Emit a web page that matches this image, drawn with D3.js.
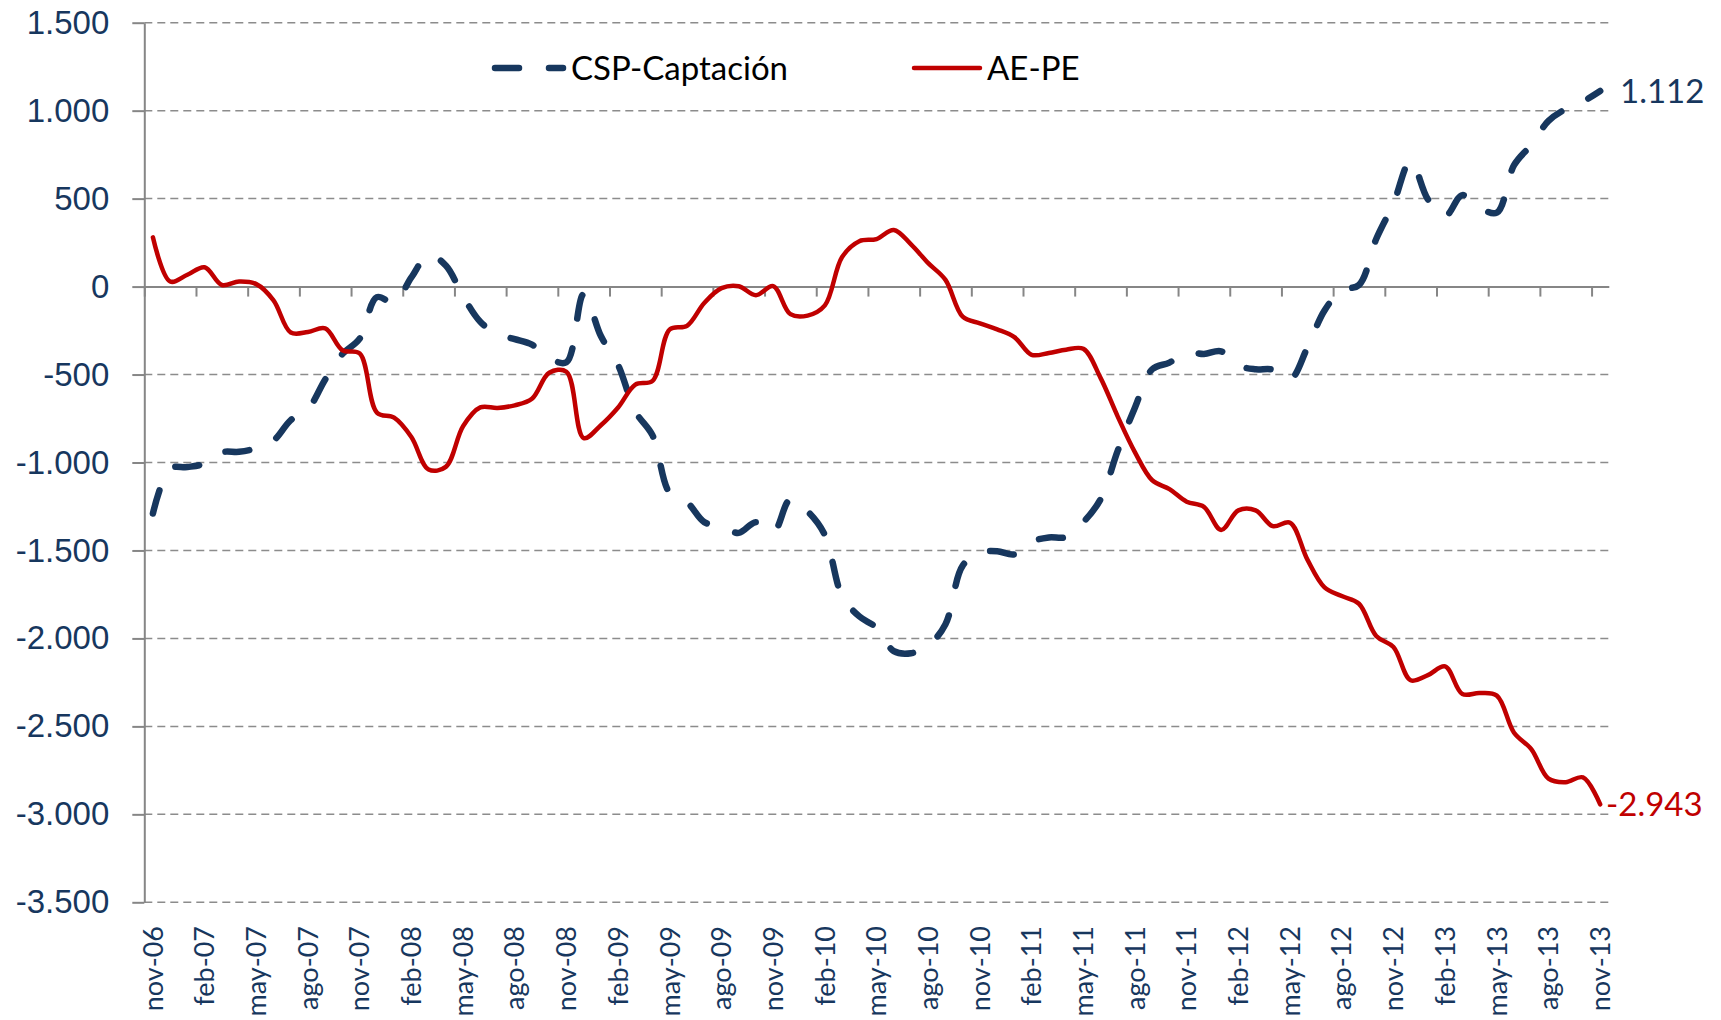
<!DOCTYPE html>
<meta charset="utf-8">
<head>
  <title>CSP-Captación vs AE-PE</title>
</head>

<style>
body {
    margin: 0;
    background: #fff;
}
svg {
    display: block;
    font-family: Lato, "Open Sans", sans-serif;
}
.grid line {
    stroke: #8c8c8c;
    stroke-width: 1.5;
    stroke-dasharray: 8, 5;
}
.axis path, .axis line {
    stroke: #868686;
    stroke-width: 2;
}
.axis text {
    fill: #17375e;
}
</style>

<body>
  <svg width="1721" height="1020"></svg>

  <script src="https://cdnjs.cloudflare.com/ajax/libs/d3/7.8.5/d3.min.js"></script>
  <script>

// categories: monthly, nov-06 .. nov-13 (85 months)
    var monthNames = ["ene", "feb", "mar", "abr", "may", "jun", "jul", "ago", "sep", "oct", "nov", "dic"];
    var months = [];
    for (var k = 0; k < 85; k++) {
        var yr = 6 + Math.floor((10 + k) / 12);
        months.push(monthNames[(10 + k) % 12] + "-" + (yr < 10 ? "0" : "") + yr);
    }

// tick labels on the category axis (every 3rd month)
    var xLabels = ["nov-06", "feb-07", "may-07", "ago-07", "nov-07", "feb-08", "may-08", "ago-08",
        "nov-08", "feb-09", "may-09", "ago-09", "nov-09", "feb-10", "may-10", "ago-10", "nov-10",
        "feb-11", "may-11", "ago-11", "nov-11", "feb-12", "may-12", "ago-12", "nov-12", "feb-13",
        "may-13", "ago-13", "nov-13"];

    var yTicks = [-3500, -3000, -2500, -2000, -1500, -1000, -500, 0, 500, 1000, 1500];

// series values
    var cspCaptacion = [
        -1290, -1035, -1026, -1006, -942, -939, -919, -875, -759, -696, -528, -383,
        -296, -60, -93, 52, 180, 120, -55, -200, -270, -299, -330, -406,
        -430, -43, -281, -446, -710, -846, -1174, -1226, -1339, -1362, -1400, -1339,
        -1397, -1209, -1278, -1412, -1759, -1875, -1939, -2072, -2084, -2041, -1919, -1586,
        -1513, -1504, -1522, -1450, -1426, -1423, -1339, -1209, -933, -687, -470, -432,
        -374, -383, -368, -449, -470, -472, -528, -348, -136, -20, 9, 270,
        472, 715, 496, 400, 520, 449, 420, 690, 806, 942, 1009, 1052,
        1112
    ];
    var aePe = [
        280, 29, 67, 110, 9, 29, 14, -78, -261, -258, -238, -362,
        -380, -716, -745, -855, -1040, -1025, -794, -687, -690, -675, -638, -490,
        -484, -861, -788, -687, -557, -536, -243, -223, -93, -9, 2, -49,
        3, -157, -165, -107, 168, 258, 270, 322, 240, 133, 38, -171,
        -209, -243, -287, -388, -377, -359, -354, -519, -739, -942, -1101, -1151,
        -1223, -1252, -1383, -1272, -1272, -1362, -1342, -1551, -1710, -1759, -1803, -1986,
        -2049, -2238, -2209, -2159, -2316, -2310, -2325, -2536, -2629, -2797, -2817, -2790,
        -2943
    ];

    var navy = "#17375e", red = "#c00000";

    var svg = d3.select("svg");

    var x = d3.scaleLinear().domain([0, months.length]).range([144.3, 1608.8]);
    var y = d3.scaleLinear().domain([-3500, 1500]).range([902.3, 22.7]);

    var fmt = d3.formatLocale({decimal: ",", thousands: ".", grouping: [3], currency: ["", ""], minus: "-"}).format(",");

// dashed gridlines
    svg.append("g")
        .attr("class", "grid")
        .selectAll("line")
        .data(yTicks.filter(d => d !== 0))
        .enter()
        .append("line")
        .attr("x1", x(0))
        .attr("x2", x(months.length))
        .attr("y1", d => y(d))
        .attr("y2", d => y(d));

// value axis
    svg.append("g")
        .attr("class", "axis")
        .attr("transform", "translate(" + x(0) + ",0)")
        .call(d3.axisLeft(y).tickValues(yTicks).tickSize(12).tickSizeOuter(0).tickPadding(23).tickFormat(fmt))
        .selectAll("text")
        .style("font-size", "33px");

// category axis crosses at 0, ticks between every 3rd month
    svg.append("g")
        .attr("class", "axis")
        .attr("transform", "translate(0," + y(0) + ")")
        .call(d3.axisBottom(x).tickValues(d3.range(0, months.length, 3)).tickSize(10).tickSizeOuter(0).tickFormat(""));

    svg.append("g")
        .selectAll("text")
        .data(xLabels)
        .enter()
        .append("text")
        .attr("transform", (d, j) => "translate(" + x(j * 3 + 0.5) + ",926) rotate(-90)")
        .attr("text-anchor", "end")
        .attr("dy", "0.36em")
        .style("font-size", "27px")
        .style("fill", navy)
        .text(d => d);

// lines
    var line = d3.line()
        .x((d, i) => x(i + 0.5))
        .y(d => y(d))
        .curve(d3.curveCatmullRom.alpha(0.5));

    svg.append("path")
        .datum(cspCaptacion)
        .attr("d", line)
        .attr("fill", "none")
        .attr("stroke", navy)
        .attr("stroke-width", 6.5)
        .attr("stroke-linecap", "round")
        .attr("stroke-dasharray", "24,30");

    svg.append("path")
        .datum(aePe)
        .attr("d", line)
        .attr("fill", "none")
        .attr("stroke", red)
        .attr("stroke-width", 4.5)
        .attr("stroke-linecap", "round")
        .attr("stroke-linejoin", "round");

// end labels
    var last = months.length - 1;
    svg.append("text")
        .attr("x", 1620)
        .attr("y", y(cspCaptacion[last]))
        .attr("dy", "0.35em")
        .style("font-size", "33px")
        .style("fill", navy)
        .text(fmt(cspCaptacion[last]));

    svg.append("text")
        .attr("x", 1606)
        .attr("y", y(aePe[last]))
        .attr("dy", "0.35em")
        .style("font-size", "33px")
        .style("fill", red)
        .text(fmt(aePe[last]));

// legend
    var legend = svg.append("g").attr("transform", "translate(0,68)");
    legend.append("line")
        .attr("x1", 495).attr("x2", 563)
        .attr("stroke", navy)
        .attr("stroke-width", 6.5)
        .attr("stroke-linecap", "round")
        .attr("stroke-dasharray", "24,30");
    legend.append("text")
        .attr("x", 571)
        .attr("dy", "0.35em")
        .style("font-size", "33px")
        .text("CSP-Captación");
    legend.append("line")
        .attr("x1", 914).attr("x2", 980)
        .attr("stroke", red)
        .attr("stroke-width", 4.5)
        .attr("stroke-linecap", "round");
    legend.append("text")
        .attr("x", 987)
        .attr("dy", "0.35em")
        .style("font-size", "33px")
        .text("AE-PE");

  </script>
</body>
</html>
